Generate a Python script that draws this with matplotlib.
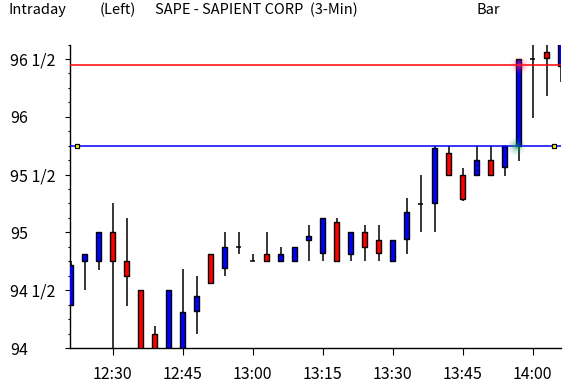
import matplotlib
matplotlib.use("Agg")
import matplotlib.pyplot as plt
from matplotlib.ticker import MultipleLocator

# 3-minute bars, SAPE
times = ["12:21", "12:24", "12:27", "12:30", "12:33", "12:36", "12:39", "12:42",
         "12:45", "12:48", "12:51", "12:54", "12:57", "13:00", "13:03", "13:06",
         "13:09", "13:12", "13:15", "13:18", "13:21", "13:24", "13:27", "13:30",
         "13:33", "13:36", "13:39", "13:42", "13:45", "13:48", "13:51", "13:54",
         "13:57", "14:00", "14:03", "14:06"]
opens = [94.375, 94.75, 94.75, 95.0, 94.75, 94.5, 94.125, 94.0,
         94.0, 94.32, 94.81, 94.69, 94.875, 94.75, 94.81, 94.755,
         94.755, 94.935, 94.82, 95.09, 94.815, 95.0, 94.935, 94.755,
         94.94, 95.245, 95.25, 95.685, 95.495, 95.5, 95.625, 95.565,
         95.745, 96.5, 96.56, 96.44]
highs = [94.75, 94.8125, 95.0, 95.25, 95.125, 94.5, 94.19, 94.5,
         94.68, 94.62, 94.81, 95.0, 95.0, 94.81, 95.0, 94.875,
         94.875, 95.06, 95.125, 95.125, 95.0, 95.06, 95.06, 94.935,
         95.3, 95.5, 95.745, 95.745, 95.555, 95.745, 95.745, 95.745,
         96.5, 96.7, 96.7, 96.7]
lows = [94.36, 94.5, 94.675, 94.0, 94.36, 94.0, 94.0, 94.0,
        94.0, 94.12, 94.555, 94.62, 94.81, 94.75, 94.75, 94.75,
        94.75, 94.75, 94.75, 94.75, 94.75, 94.75, 94.75, 94.75,
        94.81, 95.0, 95.0, 95.49, 95.275, 95.49, 95.49, 95.49,
        95.62, 95.99, 96.18, 96.3]
closes = [94.72, 94.8125, 95.0, 94.75, 94.625, 94.0, 94.0, 94.5,
          94.31, 94.45, 94.565, 94.875, 94.875, 94.75, 94.755, 94.81,
          94.875, 94.965, 95.125, 94.755, 95.0, 94.875, 94.82, 94.935,
          95.18, 95.245, 95.73, 95.5, 95.285, 95.625, 95.5, 95.745,
          96.5, 96.5, 96.505, 96.7]

red_level = 96.445
blue_level = 95.75
y_ticks = [94.0, 94.5, 95.0, 95.5, 96.0, 96.5]
y_tick_labels = ["94", "94 1/2", "95", "95 1/2", "96", "96 1/2"]

plt.rcParams["font.family"] = ["Noto Sans CJK JP", "DejaVu Sans"]
FS = 11.5
HFS = 10.5

W, H = 571, 385
fig = plt.figure(figsize=(W / 100, H / 100), dpi=100)
ax = fig.add_axes([70 / W, 1 - 348 / H, (561 - 70) / W, (348 - 44.5) / H])

x = list(range(len(times)))
for i in x:
    o, h, l, c = opens[i], highs[i], lows[i], closes[i]
    ax.vlines(i, l, h, color="black", lw=1.1, zorder=2)
    if abs(c - o) < 1e-6:
        ax.hlines(o, i - 0.18, i + 0.18, color="black", lw=1.1, zorder=3)
    else:
        col = "#0000FF" if c > o else "#FF0000"
        ax.bar(i, c - o, bottom=o, width=0.32, color=col, edgecolor="black",
               linewidth=1.0, zorder=3)

ax.axhline(red_level, color="#FF0000", lw=1.1, zorder=4)
ax.axhline(blue_level, color="#0000FF", lw=1.1, zorder=4)

# glows where price crossed the levels
for s, a in [(160, 0.08), (90, 0.12), (40, 0.2), (12, 0.35)]:
    ax.scatter([32], [red_level], s=s, color="#FF2060", alpha=a, lw=0, zorder=5)
    ax.scatter([31.8], [blue_level], s=s, color="#10A060", alpha=a, lw=0, zorder=5)

# small level markers at both ends of the blue line
ax.plot([0.45, 34.55], [blue_level, blue_level], ls="none", marker="s",
        markersize=3.5, markerfacecolor="#FFFF00", markeredgecolor="black",
        markeredgewidth=0.9, zorder=6)

ax.set_xlim(-0.05, 35.02)
ax.set_ylim(94.0, 96.625)

ax.set_yticks(y_ticks)
ax.set_yticklabels(y_tick_labels)
ax.yaxis.set_minor_locator(MultipleLocator(0.125))
ax.tick_params(axis="y", which="major", length=3.6, width=0.8, pad=39.5, labelsize=FS)
ax.tick_params(axis="y", which="minor", length=1.8, width=0.8)
for lab in ax.get_yticklabels():
    lab.set_horizontalalignment("left")

xt = [i for i, t in enumerate(times) if int(t.split(":")[1]) % 15 == 0]
ax.set_xticks(xt)
ax.set_xticklabels([times[i] for i in xt])
ax.tick_params(axis="x", length=5, width=0.8, pad=8, labelsize=FS)

for sp in ["top", "right"]:
    ax.spines[sp].set_visible(False)
for sp in ["left", "bottom"]:
    ax.spines[sp].set_linewidth(1.0)

ty = 1 - 10 / H
fig.text(8 / W, ty, "Intraday", fontsize=HFS, va="center", ha="left")
fig.text(100 / W, ty, "(Left)", fontsize=HFS, va="center", ha="left")
fig.text(155 / W, ty, "SAPE - SAPIENT CORP  (3-Min)", fontsize=HFS,
         va="center", ha="left")
fig.text(477 / W, ty, "Bar", fontsize=HFS, va="center", ha="left")

fig.savefig("out.png", dpi=100, facecolor="white")
